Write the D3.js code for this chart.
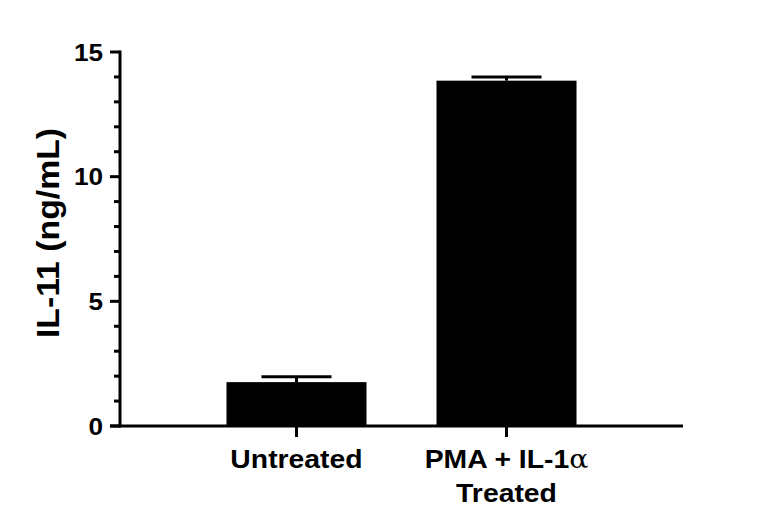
<!DOCTYPE html>
<html>
<head>
<meta charset="utf-8">
<script src="https://cdn.jsdelivr.net/npm/d3@7"></script>
<style>
  body { margin: 0; background: #fff; }
  text { font-family: "Liberation Sans", Arial, sans-serif; font-weight: bold; fill: #000; }
</style>
</head>
<body>
<script>
// datos
var grupos = ["Untreated", "PMA + IL-1α Treated"];
var medias = [1.76, 13.85];
var errores = [0.22, 0.15];
var ticksMayores = [0, 5, 10, 15];
var ticksMenores = d3.range(0, 16, 1);
var estirar = 1.09; // el texto original es algo mas ancho

function texto(svg, x, y, tam, rot) {
    return svg.append('text')
        .attr('transform', 'translate(' + x + ',' + y + ')' + (rot ? ' rotate(' + rot + ')' : '') + ' scale(' + estirar + ',1)')
        .style('font-size', tam + 'px');
}

function dibujarGrafico() {
    var svg = d3.select('body').append('svg').attr('width', 768).attr('height', 529);

    var y = d3.scaleLinear().domain([0, 15]).range([426, 52]);
    var x = d3.scaleBand().domain(grupos).range([120, 683]).paddingInner(1 / 3).paddingOuter(0.507);

    // barras
    svg.selectAll('rect.barra').data(grupos).enter().append('rect')
        .attr('class', 'barra')
        .attr('x', function (d) { return x(d); })
        .attr('width', x.bandwidth())
        .attr('y', function (d, i) { return y(medias[i]); })
        .attr('height', function (d, i) { return y(0) - y(medias[i]); })
        .attr('fill', 'black');

    // barras de error (solo hacia arriba)
    grupos.forEach(function (g, i) {
        var cx = x(g) + x.bandwidth() / 2;
        var tope = y(medias[i] + errores[i]);
        svg.append('line').attr('x1', cx).attr('x2', cx).attr('y1', y(medias[i])).attr('y2', tope)
            .attr('stroke', 'black').attr('stroke-width', 3);
        svg.append('line').attr('x1', cx - x.bandwidth() / 4).attr('x2', cx + x.bandwidth() / 4)
            .attr('y1', tope).attr('y2', tope)
            .attr('stroke', 'black').attr('stroke-width', 3);
    });

    // eje y
    var ejeY = svg.append('g').attr('transform', 'translate(120,0)');
    ejeY.append('line').attr('x1', 0).attr('x2', 0).attr('y1', y(15) - 1.5).attr('y2', y(0) + 1.5)
        .attr('stroke', 'black').attr('stroke-width', 3);
    ejeY.selectAll('line.menor').data(ticksMenores).enter().append('line')
        .attr('class', 'menor')
        .attr('x1', function (d) { return ticksMayores.indexOf(d) >= 0 ? -10 : -6; }).attr('x2', 0)
        .attr('y1', function (d) { return y(d); }).attr('y2', function (d) { return y(d); })
        .attr('stroke', 'black').attr('stroke-width', 3);
    ticksMayores.forEach(function (d) {
        texto(svg, 103, y(d), 24).attr('dy', '0.36em').attr('text-anchor', 'end').text(d);
    });

    // eje x
    svg.append('line').attr('x1', 110).attr('x2', 683).attr('y1', y(0)).attr('y2', y(0))
        .attr('stroke', 'black').attr('stroke-width', 3);
    grupos.forEach(function (g) {
        var cx = x(g) + x.bandwidth() / 2;
        svg.append('line').attr('x1', cx).attr('x2', cx).attr('y1', y(0)).attr('y2', y(0) + 11)
            .attr('stroke', 'black').attr('stroke-width', 3);
    });

    // etiquetas de categoria
    var cx0 = x(grupos[0]) + x.bandwidth() / 2;
    var cx1 = x(grupos[1]) + x.bandwidth() / 2;
    texto(svg, cx0, 468, 26).attr('text-anchor', 'middle').text('Untreated');
    var t2 = texto(svg, cx1, 468, 26).attr('text-anchor', 'middle');
    t2.append('tspan').text('PMA + IL-1');
    t2.append('tspan').style('font-weight', 'normal').style('font-family', '"DejaVu Serif", serif').text('α');
    texto(svg, cx1, 502, 26).attr('text-anchor', 'middle').text('Treated');

    // titulo eje y
    texto(svg, 59, 233, 31, -90).attr('text-anchor', 'middle').text('IL-11 (ng/mL)');
}
window.onload = dibujarGrafico;
</script>
</body>
</html>
